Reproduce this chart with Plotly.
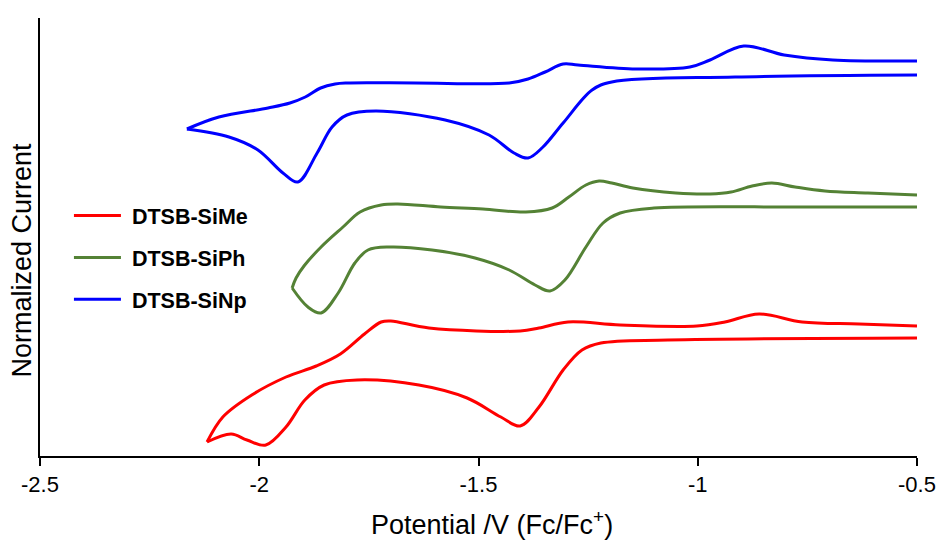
import plotly.graph_objects as go

# Cyclic voltammograms (potential in V vs Fc/Fc+, current normalized, arbitrary units).
# Each scan is stored as the cathodic sweep (from -0.5 V to the switching potential)
# followed by the anodic return sweep.

series_names = ["DTSB-SiMe", "DTSB-SiPh", "DTSB-SiNp"]
series_colors = ["#FF0000", "#548235", "#0000FF"]

# DTSB-SiMe
sime_fwd_E = [-0.500, -1.068, -1.221, -1.264, -1.307, -1.362, -1.405, -1.449, -1.526,
              -1.636, -1.777, -1.852, -1.896, -1.939, -1.985, -2.028, -2.064, -2.119]
sime_fwd_I = [11.8, 11.6, 11.3, 10.6, 8.6, 4.9, 3.0, 3.9, 5.8,
              7.1, 7.6, 7.1, 5.6, 2.9, 1.1, 1.6, 2.2, 1.4]
sime_rev_E = [-2.119, -2.083, -2.017, -1.939, -1.870, -1.815, -1.760, -1.722, -1.700,
              -1.613, -1.405, -1.362, -1.296, -1.177, -1.002, -0.938, -0.860, -0.762,
              -0.632, -0.500]
sime_rev_I = [1.4, 3.9, 6.1, 7.9, 9.0, 10.2, 12.2, 13.4, 13.5,
              12.8, 12.5, 12.8, 13.4, 13.1, 13.0, 13.4, 14.2, 13.4,
              13.2, 13.0]

# DTSB-SiPh
siph_fwd_E = [-0.500, -0.767, -1.100, -1.177, -1.216, -1.255, -1.303, -1.337, -1.371,
              -1.430, -1.508, -1.606, -1.702, -1.752, -1.782, -1.820, -1.859, -1.889, -1.925]
siph_fwd_I = [24.9, 24.9, 24.8, 24.3, 23.3, 20.9, 17.6, 16.5, 17.1,
              18.6, 19.8, 20.6, 20.9, 20.6, 19.3, 16.3, 14.3, 14.9, 16.8]
siph_rev_E = [-1.925, -1.916, -1.898, -1.859, -1.809, -1.770, -1.722, -1.684, -1.586,
              -1.490, -1.392, -1.332, -1.294, -1.255, -1.225, -1.196, -1.148, -1.050,
              -0.972, -0.924, -0.876, -0.831, -0.778, -0.710, -0.612, -0.500]
siph_rev_I = [16.8, 17.8, 19.0, 20.9, 22.9, 24.4, 25.1, 25.2, 24.9,
              24.7, 24.4, 24.8, 25.9, 27.1, 27.5, 27.3, 26.8, 26.3,
              26.2, 26.4, 27.0, 27.3, 26.9, 26.5, 26.3, 26.1]

# DTSB-SiNp
sinp_fwd_E = [-0.500, -0.915, -1.196, -1.241, -1.307, -1.353, -1.387, -1.419, -1.476,
              -1.576, -1.734, -1.800, -1.834, -1.868, -1.912, -1.946, -2.003, -2.069, -2.165]
sinp_fwd_I = [38.1, 37.9, 37.4, 36.6, 33.3, 30.9, 29.8, 30.3, 32.1,
              33.6, 34.5, 34.1, 32.9, 30.3, 27.4, 28.3, 30.6, 31.9, 32.7]
sinp_rev_E = [-2.165, -2.092, -1.980, -1.930, -1.895, -1.860, -1.827, -1.800, -1.643,
              -1.430, -1.387, -1.348, -1.307, -1.273, -1.141, -1.018, -0.972, -0.895,
              -0.803, -0.692, -0.500]
sinp_rev_I = [32.7, 33.9, 34.8, 35.3, 35.9, 36.8, 37.2, 37.3, 37.3,
              37.3, 37.7, 38.4, 39.2, 39.1, 38.7, 38.9, 39.6, 41.0,
              40.1, 39.6, 39.5]

x_ticks = [-2.5, -2, -1.5, -1, -0.5]
x_tick_text = ["-2.5", "-2", "-1.5", "-1", "-0.5"]

x_title = "Potential /V (Fc/Fc<sup>+</sup>)"
y_title = "Normalized Current"

scans = [
    (sime_fwd_E, sime_fwd_I, sime_rev_E, sime_rev_I),
    (siph_fwd_E, siph_fwd_I, siph_rev_E, siph_rev_I),
    (sinp_fwd_E, sinp_fwd_I, sinp_rev_E, sinp_rev_I),
]

FONT = "Liberation Sans, Arial, sans-serif"

fig = go.Figure()
for name, color, (fE, fI, rE, rI) in zip(series_names, series_colors, scans):
    for k, (E, I) in enumerate(((fE, fI), (rE, rI))):
        fig.add_trace(go.Scatter(
            x=E, y=I, mode="lines", name="&nbsp;" + name, legendgroup=name,
            showlegend=(k == 0),
            line=dict(color=color, width=3, shape="spline", smoothing=1.0),
            hoverinfo="skip",
        ))

# axis titles
fig.add_annotation(
    text=x_title, xref="paper", yref="paper", x=0.3763, y=-0.153,
    xanchor="left", yanchor="middle", showarrow=False, borderpad=0,
    font=dict(family=FONT, size=27, color="black"),
)
fig.add_annotation(
    text=y_title, xref="paper", yref="paper", x=-0.02, y=0.4475,
    xanchor="center", yanchor="middle", textangle=-90, showarrow=False,
    font=dict(family=FONT, size=27, color="black"),
)

fig.update_layout(
    width=939, height=542,
    margin=dict(l=40, r=22, t=18, b=86),
    paper_bgcolor="white", plot_bgcolor="white",
    font=dict(family=FONT, color="black"),
    showlegend=True,
    legend=dict(
        x=0.033, y=0.596, xanchor="left", yanchor="top",
        font=dict(family=FONT, size=21.5, color="black", weight="bold"),
        bgcolor="rgba(0,0,0,0)", borderwidth=0,
        traceorder="grouped", tracegroupgap=11, itemwidth=47,
    ),
    xaxis=dict(
        range=[-2.5, -0.5], tickvals=x_ticks, ticktext=x_tick_text,
        showgrid=False, zeroline=False, automargin=False,
        showline=True, linecolor="black", linewidth=2,
        ticks="outside", ticklen=8, tickwidth=2, tickcolor="black",
        tickfont=dict(family=FONT, size=22),
    ),
    yaxis=dict(
        range=[0, 43.8], showgrid=False, zeroline=False, automargin=False,
        showline=True, linecolor="black", linewidth=2,
        showticklabels=False, ticks="",
    ),
)

fig.write_html("out.html")
